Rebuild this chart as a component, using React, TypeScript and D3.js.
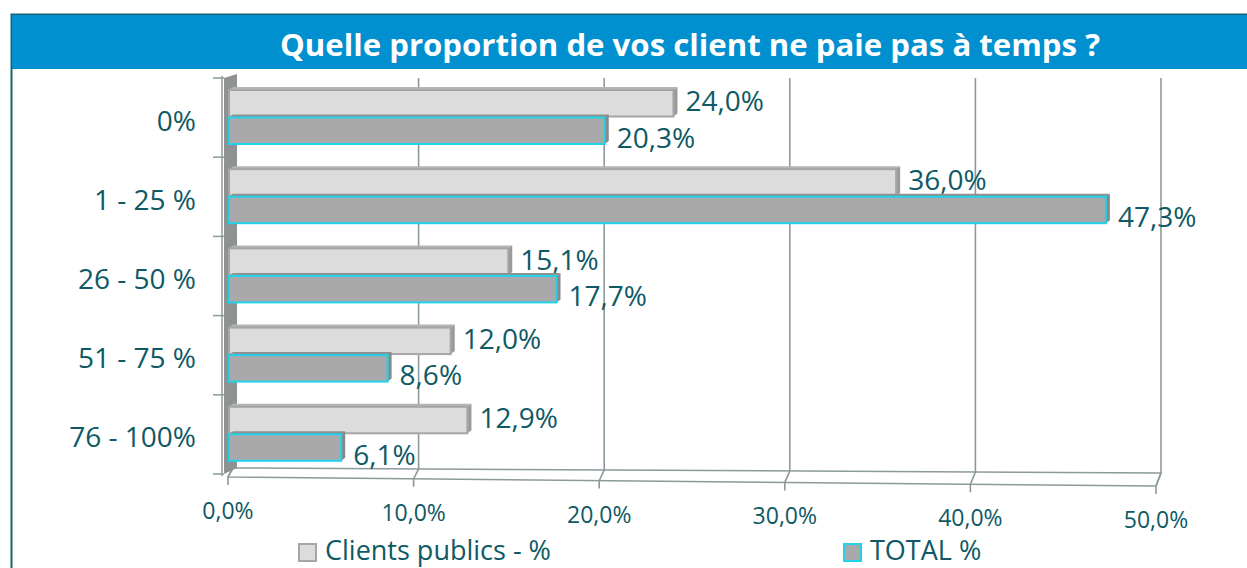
import React from "react";
import * as d3 from "d3";

const categories = ["0%", "1 - 25 %", "26 - 50 %", "51 - 75 %", "76 - 100%"];
const seriesNames = ["Clients publics - %", "TOTAL %"];
const clientsPublics = [24.0, 36.0, 15.1, 12.0, 12.9];
const totalPct = [20.3, 47.3, 17.7, 8.6, 6.1];
const xTicks = [0, 10, 20, 30, 40, 50];
const title = "Quelle proportion de vos client ne paie pas à temps ?";

const W = 1247;
const H = 568;
const TEXT = "#0e5964";
const FONT = "'Open Sans', 'Noto Sans', sans-serif";

const fmt = (v: number) => d3.format(".1f")(v).replace(".", ",") + "%";

export default function App() {
  const x = d3.scaleLinear().domain([0, 50]).range([228, 1156]);
  const y = d3.scaleBand<string>().domain(categories).range([78, 474]).padding(0);
  const inner = d3.scaleBand<string>().domain(seriesNames).range([12, 67]).padding(0);
  const floorFront = (v: number) => 477 + v * 0.18;
  const floorBack = (v: number) => 468 + v * 0.1;
  const DX = 4;
  const DY = -3;

  const series = [
    { name: seriesNames[0], values: clientsPublics, fill: "#dcdcdc", stroke: "#a6a6a6", top: "#b4b4b4", side: "#9a9a9a", labelDy: -3 },
    { name: seriesNames[1], values: totalPct, fill: "#a9a9a9", stroke: "#1fd3ea", top: "#8f8f8f", side: "#888888", labelDy: 6 },
  ];

  return (
    <svg width={W} height={H} style={{ position: "absolute", left: 0, top: 0, background: "#fff" }} fontFamily={FONT}>
      {/* frame */}
      <rect x={11.5} y={14.5} width={W} height={H} fill="#fff" stroke="#1a6470" strokeWidth={2} />
      <rect x={12} y={15} width={W} height={54} fill="#0090d0" />
      <text x={690} y={56} textAnchor="middle" fill="#fff" fontWeight="bold" fontSize={31} textLength={820} lengthAdjust="spacingAndGlyphs">
        {title}
      </text>

      {/* floor */}
      <path
        d={`M${x(0)},${floorFront(0)} L${x(50)},${floorFront(50)} L${x(50) + 5},${floorBack(50)} L${x(0) + 5},${floorBack(0)} Z`}
        fill="#ffffff"
        stroke="#8c9a9c"
        strokeWidth={1.5}
      />

      {/* gridlines */}
      {xTicks.map((t) => (
        <g key={t}>
          <path
            d={`M${x(t) + 5},78 L${x(t) + 5},${floorBack(t)} L${x(t)},${floorFront(t)} L${x(t)},${floorFront(t) + 8}`}
            fill="none"
            stroke="#8c9a9c"
            strokeWidth={1.6}
          />
          <text x={x(t)} y={floorFront(t) + 42} textAnchor="middle" fill={TEXT} fontSize={23}>
            {fmt(t)}
          </text>
        </g>
      ))}

      {/* side wall */}
      <path d="M224,78 L237,74 L237,468 L224,474 Z" fill="#8e9292" />
      <line x1={222} y1={76} x2={222} y2={476} stroke="#8c9a9c" strokeWidth={1.5} />
      {[...categories.map((c) => y(c) as number), 474].map((ty, i) => (
        <line key={i} x1={213} y1={ty} x2={224} y2={ty} stroke="#8c9a9c" strokeWidth={1.5} />
      ))}

      {/* category labels */}
      {categories.map((c) => (
        <text key={c} x={196} y={(y(c) as number) + y.bandwidth() / 2 + 2} textAnchor="end" dominantBaseline="central" fill={TEXT} fontSize={28}>
          {c}
        </text>
      ))}

      {/* bars */}
      {categories.map((c, i) => (
        <g key={c}>
          {series.map((s) => {
            const y0 = (y(c) as number) + (inner(s.name) as number);
            const h = inner.bandwidth() - 1;
            const x0 = x(0) + 1;
            const x1 = x(s.values[i]);
            return (
              <g key={s.name}>
                <path d={`M${x0},${y0} L${x0 + DX},${y0 + DY} L${x1 + DX},${y0 + DY} L${x1},${y0} Z`} fill={s.top} />
                <path d={`M${x1},${y0} L${x1 + DX},${y0 + DY} L${x1 + DX},${y0 + h + DY} L${x1},${y0 + h} Z`} fill={s.side} />
                <rect x={x0} y={y0} width={x1 - x0} height={h} fill={s.fill} stroke={s.stroke} strokeWidth={2} />
                <text x={x1 + 12} y={y0 + h / 2 + s.labelDy} dominantBaseline="central" fill={TEXT} fontSize={28}>
                  {fmt(s.values[i])}
                </text>
              </g>
            );
          })}
        </g>
      ))}

      {/* legend */}
      {series.map((s, i) => {
        const lx = i === 0 ? 298 : 843;
        return (
          <g key={s.name}>
            <rect x={lx + 1} y={544} width={17} height={17} fill={s.fill} stroke={s.stroke} strokeWidth={2} />
            <text x={lx + 27} y={560} fill={TEXT} fontSize={27}>
              {s.name}
            </text>
          </g>
        );
      })}
    </svg>
  );
}
